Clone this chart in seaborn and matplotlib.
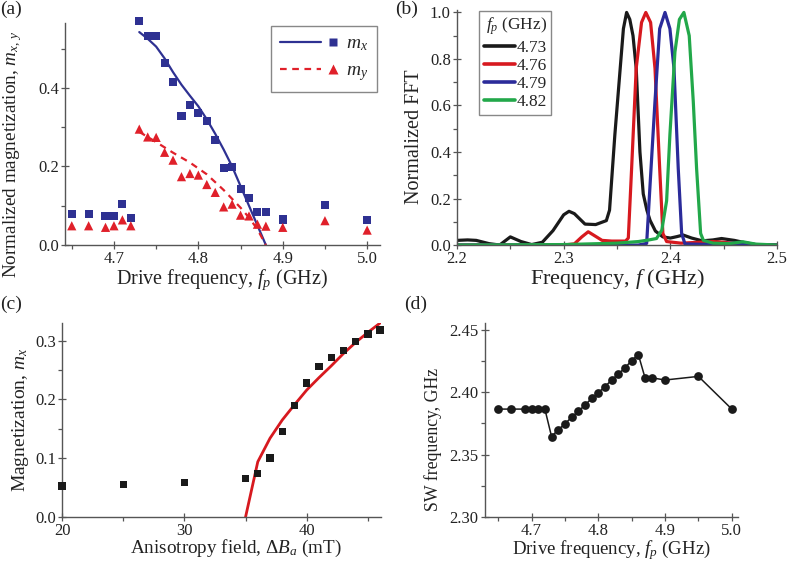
import numpy as np
import pandas as pd
import matplotlib
matplotlib.use("Agg")
import matplotlib.pyplot as plt
from matplotlib.lines import Line2D
from matplotlib.ticker import MultipleLocator, FormatStrFormatter
from matplotlib.legend_handler import HandlerBase
import seaborn as sns

# ---------------- data ----------------
# (a) normalized magnetization vs drive frequency
fp = [4.65, 4.67, 4.69, 4.70, 4.71, 4.72, 4.73, 4.74, 4.75, 4.76, 4.77, 4.78, 4.79,
      4.80, 4.81, 4.82, 4.83, 4.84, 4.85, 4.86, 4.87, 4.88, 4.90, 4.95, 5.00]
mx = [0.078, 0.080, 0.074, 0.074, 0.104, 0.068, 0.570, 0.531, 0.531, 0.464, 0.414, 0.328,
      0.356, 0.335, 0.315, 0.268, 0.197, 0.199, 0.142, 0.120, 0.083, 0.083, 0.065, 0.101, 0.063]
my = [0.049, 0.049, 0.045, 0.049, 0.064, 0.049, 0.295, 0.275, 0.274, 0.236, 0.216, 0.174,
      0.182, 0.178, 0.154, 0.134, 0.097, 0.104, 0.076, 0.074, 0.053, 0.048, 0.045, 0.062, 0.038]
fit_mx_f = [4.73, 4.74, 4.75, 4.76, 4.77, 4.78, 4.79, 4.80, 4.81, 4.82, 4.83, 4.84, 4.85,
            4.86, 4.87, 4.88]
fit_mx_v = [0.542, 0.525, 0.505, 0.475, 0.44, 0.408, 0.38, 0.353, 0.32, 0.283, 0.243,
            0.200, 0.150, 0.100, 0.050, 0.0]
fit_my_f = [4.73, 4.75, 4.77, 4.79, 4.81, 4.83, 4.85, 4.86, 4.87, 4.88]
fit_my_v = [0.288, 0.262, 0.235, 0.210, 0.180, 0.140, 0.095, 0.070, 0.040, 0.0]

# (b) normalized FFT spectra
fft_labels = ["4.73", "4.76", "4.79", "4.82"]
f_473 = [2.200, 2.210, 2.218, 2.230, 2.240, 2.250, 2.260, 2.270, 2.280, 2.290, 2.300,
         2.305, 2.310, 2.320, 2.330, 2.340, 2.343, 2.348, 2.353, 2.356, 2.359, 2.362,
         2.365, 2.368, 2.3715, 2.3746, 2.378, 2.381, 2.386, 2.393, 2.400, 2.406, 2.412,
         2.420, 2.430, 2.440, 2.448, 2.460, 2.470, 2.480, 2.500]
v_473 = [0.020, 0.022, 0.020, 0.006, 0.000, 0.035, 0.015, 0.002, 0.012, 0.062, 0.130,
         0.145, 0.135, 0.090, 0.088, 0.105, 0.150, 0.475, 0.760, 0.930, 1.000, 0.970,
         0.900, 0.760, 0.400, 0.220, 0.150, 0.106, 0.060, 0.035, 0.030, 0.036, 0.043,
         0.030, 0.018, 0.022, 0.028, 0.020, 0.010, 0.002, 0.000]
f_476 = [2.200, 2.300, 2.310, 2.317, 2.323, 2.329, 2.336, 2.345, 2.358, 2.3606, 2.3637,
         2.368, 2.373, 2.377, 2.3815, 2.3856, 2.390, 2.393, 2.3965, 2.410, 2.440, 2.450,
         2.470, 2.500]
v_476 = [0.000, 0.000, 0.005, 0.035, 0.057, 0.040, 0.020, 0.017, 0.017, 0.030, 0.330,
         0.760, 0.957, 1.000, 0.957, 0.760, 0.330, 0.050, 0.015, 0.008, 0.015, 0.012,
         0.002, 0.000]
f_479 = [2.200, 2.370, 2.3778, 2.381, 2.3856, 2.390, 2.395, 2.3996, 2.4034, 2.4074,
         2.4106, 2.4137, 2.430, 2.460, 2.480, 2.500]
v_479 = [0.000, 0.000, 0.007, 0.260, 0.617, 0.930, 1.000, 0.930, 0.760, 0.330, 0.050,
         0.005, 0.003, 0.008, 0.002, 0.000]
f_482 = [2.200, 2.300, 2.350, 2.370, 2.380, 2.387, 2.392, 2.3965, 2.3996, 2.4043,
         2.4085, 2.4127, 2.4177, 2.4215, 2.4246, 2.4284, 2.431, 2.440, 2.455, 2.468,
         2.480, 2.500]
v_482 = [0.000, 0.002, 0.008, 0.015, 0.022, 0.028, 0.064, 0.190, 0.475, 0.830, 0.970,
         1.000, 0.900, 0.617, 0.330, 0.050, 0.020, 0.008, 0.006, 0.014, 0.004, 0.000]

# (c) magnetization vs anisotropy field
dBa = [20, 25, 30, 35, 36, 37, 38, 39, 40, 41, 42, 43, 44, 45, 46]
mx_c = [0.053, 0.0556, 0.0585, 0.065, 0.074, 0.1005, 0.145, 0.190, 0.228, 0.2555,
        0.271, 0.283, 0.298, 0.311, 0.318]
fit_c_B = [35, 36, 37, 38, 39, 40, 41, 42, 43, 44, 45, 46]
fit_c_v = [0.0, 0.094, 0.134, 0.165, 0.191, 0.216, 0.237, 0.257, 0.278, 0.297, 0.314, 0.330]

# (d) SW frequency vs drive frequency
sw = [2.3865, 2.3865, 2.3865, 2.3865, 2.3865, 2.3865, 2.3645, 2.370, 2.3746, 2.380,
      2.3847, 2.3897, 2.395, 2.3997, 2.4045, 2.4098, 2.4146, 2.4196, 2.4254, 2.4302,
      2.4116, 2.4116, 2.4098, 2.4127, 2.3865]

# ---------------- style ----------------
sns.set_theme(style="ticks")
plt.rcParams["font.family"] = ["Liberation Serif", "DejaVu Serif"]
plt.rcParams["mathtext.fontset"] = "custom"
plt.rcParams["mathtext.rm"] = "Liberation Serif"
plt.rcParams["mathtext.it"] = "Liberation Serif:italic"
plt.rcParams["mathtext.bf"] = "Liberation Serif:bold"

TICK_FS = 12
SPINE_C = "#555555"
TXT_C = "#222222"

fig = plt.figure(figsize=(7.87, 5.62), dpi=100)


def style_axes(ax):
    sns.despine(ax=ax)
    for s in ("left", "bottom"):
        ax.spines[s].set_color(SPINE_C)
        ax.spines[s].set_linewidth(1.0)
    ax.tick_params(which="major", direction="inout", length=6, width=0.9,
                   color=SPINE_C, labelsize=TICK_FS, labelcolor=TXT_C, pad=1.5)
    ax.tick_params(which="minor", direction="out", length=3, width=0.9, color=SPINE_C)
    ax.set_facecolor("white")


class LineThenMarker(HandlerBase):
    """Legend entry: a line segment followed by a separate marker."""
    def create_artists(self, legend, orig_handle, xdescent, ydescent, width, height,
                       fontsize, trans):
        y = height / 2 - ydescent
        x0 = -xdescent
        line = Line2D([x0, x0 + 0.74 * width], [y, y])
        line.update_from(orig_handle)
        line.set_marker("None")
        mk = Line2D([x0 + 0.94 * width], [y])
        mk.update_from(orig_handle)
        mk.set_linestyle("None")
        line.set_transform(trans)
        mk.set_transform(trans)
        return [line, mk]


BLUE = "#2e3192"
RED = "#e0202a"
DASH = (0, (3, 2.5))

# ---------------- (a) ----------------
axA = fig.add_axes([0.0826, 0.564, 0.400, 0.395])
dfa = pd.DataFrame({"fp": fp, "mx": mx, "my": my})
sns.lineplot(x=fit_mx_f, y=fit_mx_v, ax=axA, color=BLUE, lw=1.6)
sns.lineplot(x=fit_my_f, y=fit_my_v, ax=axA, color=RED, lw=1.6, linestyle=DASH)
sns.scatterplot(data=dfa, x="fp", y="mx", ax=axA, marker="s", s=34, color=BLUE,
                edgecolor="none", zorder=3, clip_on=False)
sns.scatterplot(data=dfa, x="fp", y="my", ax=axA, marker="^", s=44, color=RED,
                edgecolor="none", zorder=3, clip_on=False)
axA.set_xlim(4.642, 5.015)
axA.set_ylim(0, 0.565)
axA.xaxis.set_major_locator(MultipleLocator(0.1))
axA.xaxis.set_minor_locator(MultipleLocator(0.05))
axA.yaxis.set_major_locator(MultipleLocator(0.2))
axA.yaxis.set_minor_locator(MultipleLocator(0.1))
axA.xaxis.set_major_formatter(FormatStrFormatter("%.1f"))
axA.yaxis.set_major_formatter(FormatStrFormatter("%.1f"))
style_axes(axA)
axA.set_xlabel(r"Drive frequency, $f_p$ (GHz)", fontsize=14.5, labelpad=0, color=TXT_C)
axA.set_ylabel(r"Normalized magnetization, $m_{x,\,y}$", fontsize=13.8, color=TXT_C)
axA.yaxis.set_label_coords(-0.13, 0.41)
hA = [Line2D([], [], color=BLUE, lw=1.6, marker="s", markersize=6,
             markeredgecolor="none"),
      Line2D([], [], color=RED, lw=1.6, linestyle=DASH, marker="^", markersize=7,
             markeredgecolor="none")]
legA = axA.legend(hA, [r"$m_x$", r"$m_y$"], loc="upper right",
                  bbox_to_anchor=(0.99, 0.985), handler_map={Line2D: LineThenMarker()},
                  handlelength=2.9, fontsize=14, frameon=True, fancybox=False,
                  edgecolor="#888888", framealpha=1, borderpad=0.45, labelspacing=0.45,
                  handletextpad=0.5, borderaxespad=0)
legA.get_frame().set_linewidth(1.0)

# ---------------- (b) ----------------
axB = fig.add_axes([0.5807, 0.564, 0.4066, 0.418])
dfb = pd.concat([
    pd.DataFrame({"f": f_473, "v": v_473, "fp": fft_labels[0]}),
    pd.DataFrame({"f": f_476, "v": v_476, "fp": fft_labels[1]}),
    pd.DataFrame({"f": f_479, "v": v_479, "fp": fft_labels[2]}),
    pd.DataFrame({"f": f_482, "v": v_482, "fp": fft_labels[3]}),
], ignore_index=True)
pal_b = ["#1a1a1a", "#d7191f", "#2b2b9a", "#22a84a"]
sns.lineplot(data=dfb, x="f", y="v", hue="fp", palette=pal_b, ax=axB, lw=2.3,
             estimator=None, sort=True)
axB.set_xlim(2.2, 2.5)
axB.set_ylim(0, 1.01)
axB.xaxis.set_major_locator(MultipleLocator(0.1))
axB.xaxis.set_minor_locator(MultipleLocator(0.05))
axB.yaxis.set_major_locator(MultipleLocator(0.2))
axB.yaxis.set_minor_locator(MultipleLocator(0.1))
axB.xaxis.set_major_formatter(FormatStrFormatter("%.1f"))
axB.yaxis.set_major_formatter(FormatStrFormatter("%.1f"))
style_axes(axB)
axB.set_xlabel(r"Frequency, $f$ (GHz)", fontsize=16, labelpad=0, color=TXT_C)
axB.set_ylabel("Normalized FFT", fontsize=14.5, color=TXT_C)
axB.yaxis.set_label_coords(-0.104, 0.46)
hB, lB = axB.get_legend_handles_labels()
for h in hB:
    h.set_linewidth(2.6)
legB = axB.legend(hB, lB, title=r"$f_p$ (GHz)", loc="upper left",
                  bbox_to_anchor=(0.07, 0.997), fontsize=12.5, title_fontsize=12.5,
                  frameon=True, fancybox=False, edgecolor="#888888", framealpha=1,
                  handlelength=1.8, handletextpad=0.1, labelspacing=0.12, borderpad=0.25,
                  borderaxespad=0)
legB.get_frame().set_linewidth(1.0)
legB._legend_box.align = "right"
legB._legend_box.sep = 2

# ---------------- (c) ----------------
axC = fig.add_axes([0.0788, 0.080, 0.405, 0.3453])
sns.lineplot(x=fit_c_B, y=fit_c_v, ax=axC, color="#d7191f", lw=2.0)
sns.scatterplot(x=dBa, y=mx_c, ax=axC, marker="s", s=28, color="#1a1a1a",
                edgecolor="none", zorder=3, clip_on=False)
axC.set_xlim(20, 46.05)
axC.set_ylim(0, 0.33)
axC.xaxis.set_major_locator(MultipleLocator(10))
axC.xaxis.set_minor_locator(MultipleLocator(5))
axC.yaxis.set_major_locator(MultipleLocator(0.1))
axC.yaxis.set_minor_locator(MultipleLocator(0.05))
axC.yaxis.set_major_formatter(FormatStrFormatter("%.1f"))
style_axes(axC)
axC.set_xlabel(r"Anisotropy field, $\Delta B_a$ (mT)", fontsize=13.8, color=TXT_C)
axC.xaxis.set_label_coords(0.545, -0.108)
axC.xaxis.label.set_va("top")
axC.set_ylabel(r"Magnetization, $m_x$", fontsize=14, labelpad=3, color=TXT_C)

# ---------------- (d) ----------------
axD = fig.add_axes([0.616, 0.0800, 0.3215, 0.3453])
sns.lineplot(x=fp, y=sw, ax=axD, color="#1a1a1a", lw=1.1, marker="o", markersize=6.3,
             markeredgecolor="none")
axD.set_xlim(4.63, 5.009)
axD.set_ylim(2.30, 2.4555)
axD.xaxis.set_major_locator(MultipleLocator(0.1))
axD.xaxis.set_minor_locator(MultipleLocator(0.05))
axD.yaxis.set_major_locator(MultipleLocator(0.05))
axD.yaxis.set_minor_locator(MultipleLocator(0.025))
axD.xaxis.set_major_formatter(FormatStrFormatter("%.1f"))
axD.yaxis.set_major_formatter(FormatStrFormatter("%.2f"))
style_axes(axD)
axD.set_xlabel(r"Drive frequency, $f_p$ (GHz)", fontsize=13.6, labelpad=-1, color=TXT_C)
axD.set_ylabel("SW frequency, GHz", fontsize=12.8, color=TXT_C)
axD.yaxis.set_label_coords(-0.17, 0.40)

# ---------------- panel labels ----------------
for txt, x, y in [("(a)", 0.0, 0.998), ("(b)", 0.502, 0.998),
                  ("(c)", 0.0, 0.473), ("(d)", 0.514, 0.473)]:
    fig.text(x, y, txt, fontsize=14, ha="left", va="top", color=TXT_C)

fig.savefig("out.png", dpi=100, facecolor="white")
